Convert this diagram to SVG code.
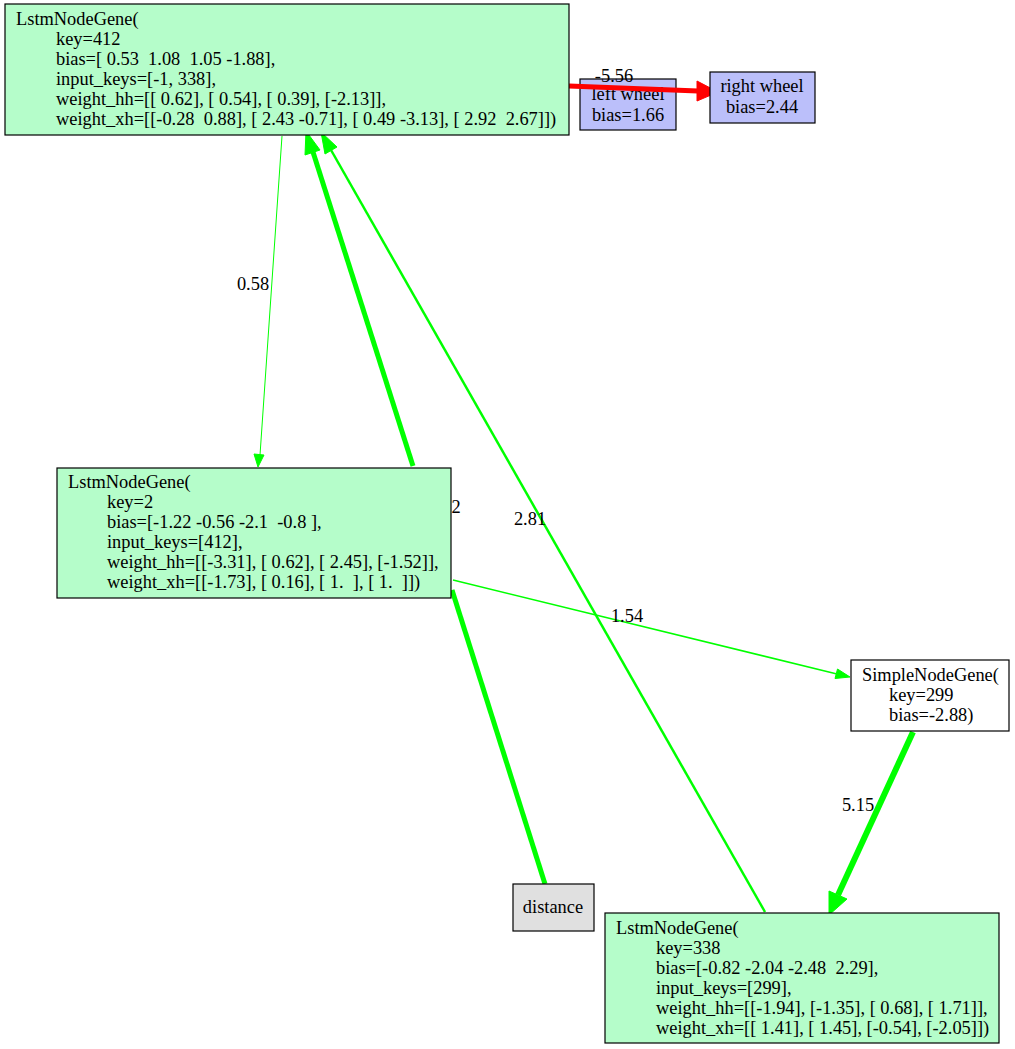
<svg xmlns="http://www.w3.org/2000/svg" width="1015" height="1049" viewBox="0 0 1015 1049">
  <style>
    text { font-family: "Liberation Serif", "Times New Roman", serif; font-size: 18.4px; fill: #000; white-space: pre; }
    .mid { text-anchor: middle; }
    .box { stroke: #000; stroke-width: 1.2; }
    .lstm { fill: #b5fdca; }
    .out { fill: #bbbffa; }
    .inp { fill: #e0e0e0; }
    .simple { fill: #ffffff; }
    .pos { stroke: #00ff00; fill: none; }
    .neg { stroke: #ff0000; fill: none; }
    .headpos { fill: #00ff00; stroke: #00ff00; }
    .headneg { fill: #ff0000; stroke: #ff0000; }
  </style>

  <rect width="1015" height="1049" fill="#ffffff"/>

  <!-- left wheel sits underneath the red connector that crosses it -->
  <g id="left_wheel">
    <rect class="box out" x="580" y="79" width="96" height="51"/>
    <text class="mid" x="628" y="100">left wheel</text>
    <text class="mid" x="628" y="121">bias=1.66</text>
  </g>

  <!-- connectors -->
  <g id="edges">
    <!-- 412 -> right wheel -->
    <line class="neg" x1="569" y1="86" x2="698" y2="91" stroke-width="5"/>
    <polygon class="headneg" points="697,81 718,92 697,101"/>
    <text class="mid" x="614" y="82">-5.56</text>

    <!-- 412 -> 2 -->
    <line class="pos" x1="282" y1="136" x2="260" y2="455" stroke-width="1"/>
    <polygon class="headpos" points="254,454 258,467 264,455"/>
    <text class="mid" x="253" y="290">0.58</text>

    <!-- 2 -> 412 -->
    <line class="pos" x1="413" y1="466" x2="313" y2="152" stroke-width="5"/>
    <polygon class="headpos" points="320,150 306,131 305,155"/>
    <text class="mid" x="456" y="513">2</text>

    <!-- 338 -> 412 -->
    <line class="pos" x1="765" y1="912" x2="331" y2="150" stroke-width="2.5"/>
    <polygon class="headpos" points="337,147 321,132 325,154"/>
    <text class="mid" x="530" y="525">2.81</text>

    <!-- 2 -> 299 -->
    <line class="pos" x1="453" y1="580" x2="837" y2="674" stroke-width="1.5"/>
    <polygon class="headpos" points="835,678.5 850,677 837.5,669"/>
    <text class="mid" x="627" y="622">1.54</text>

    <!-- distance -> 2 -->
    <line class="pos" x1="452" y1="590" x2="545" y2="884" stroke-width="5"/>

    <!-- 299 -> 338 -->
    <line class="pos" x1="913" y1="732" x2="838" y2="895" stroke-width="6"/>
    <polygon class="headpos" points="847,899 829,915 829,891"/>
    <text class="mid" x="858" y="811">5.15</text>
  </g>

  <!-- nodes -->
  <g id="node412">
    <rect class="box lstm" x="5" y="4" width="564" height="131"/>
    <text x="16" y="25">LstmNodeGene(</text>
    <text x="56" y="45">key=412</text>
    <text x="56" y="65">bias=[ 0.53  1.08  1.05 -1.88],</text>
    <text x="56" y="85">input_keys=[-1, 338],</text>
    <text x="56" y="105">weight_hh=[[ 0.62], [ 0.54], [ 0.39], [-2.13]],</text>
    <text x="56" y="125">weight_xh=[[-0.28  0.88], [ 2.43 -0.71], [ 0.49 -3.13], [ 2.92  2.67]])</text>
  </g>

  <g id="right_wheel">
    <rect class="box out" x="710" y="72" width="105" height="51"/>
    <text class="mid" x="762" y="92">right wheel</text>
    <text class="mid" x="762" y="113">bias=2.44</text>
  </g>

  <g id="node2">
    <rect class="box lstm" x="57" y="468" width="394" height="130"/>
    <text x="68" y="488">LstmNodeGene(</text>
    <text x="107" y="508">key=2</text>
    <text x="107" y="528">bias=[-1.22 -0.56 -2.1  -0.8 ],</text>
    <text x="107" y="548">input_keys=[412],</text>
    <text x="107" y="568">weight_hh=[[-3.31], [ 0.62], [ 2.45], [-1.52]],</text>
    <text x="107" y="588">weight_xh=[[-1.73], [ 0.16], [ 1.  ], [ 1.  ]])</text>
  </g>

  <g id="node299">
    <rect class="box simple" x="851" y="660" width="158" height="71"/>
    <text x="862" y="681">SimpleNodeGene(</text>
    <text x="889" y="701">key=299</text>
    <text x="889" y="721">bias=-2.88)</text>
  </g>

  <g id="distance">
    <rect class="box inp" x="513" y="884" width="81" height="47"/>
    <text class="mid" x="553" y="913">distance</text>
  </g>

  <g id="node338">
    <rect class="box lstm" x="605" y="913" width="394" height="130"/>
    <text x="616" y="934">LstmNodeGene(</text>
    <text x="656" y="954">key=338</text>
    <text x="656" y="974">bias=[-0.82 -2.04 -2.48  2.29],</text>
    <text x="656" y="994">input_keys=[299],</text>
    <text x="656" y="1014">weight_hh=[[-1.94], [-1.35], [ 0.68], [ 1.71]],</text>
    <text x="656" y="1034">weight_xh=[[ 1.41], [ 1.45], [-0.54], [-2.05]])</text>
  </g>
</svg>
